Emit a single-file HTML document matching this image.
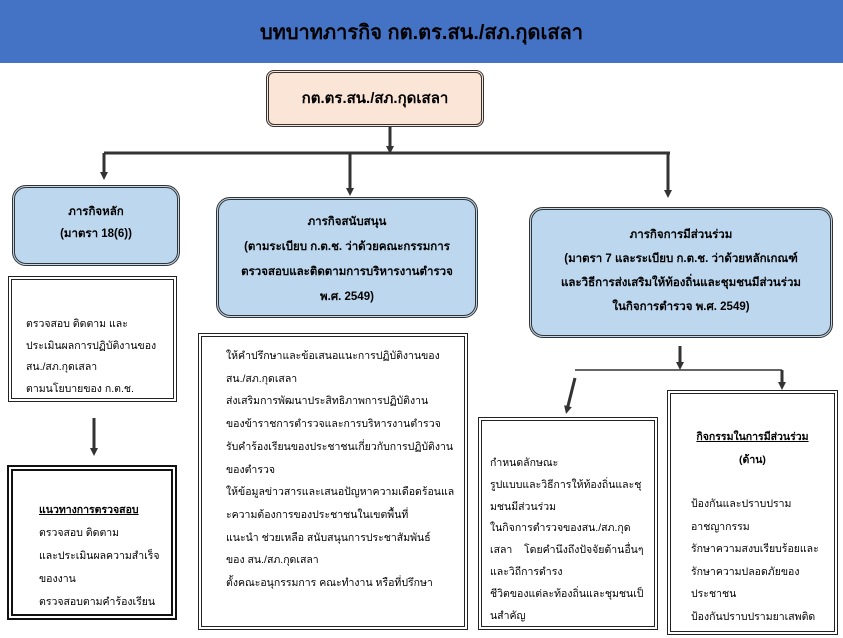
<!DOCTYPE html>
<html><head><meta charset="utf-8"><style>
body{margin:0;width:843px;height:638px;background:#fff;position:relative;overflow:hidden;font-family:"Liberation Sans","Noto Sans CJK SC","WenQuanYi Zen Hei",sans-serif;color:#000}
.a{position:absolute;box-sizing:border-box;white-space:nowrap}
.hdr{left:0;top:0;width:843px;height:63px;background:#4472C4;text-align:center;font-size:20px;font-weight:bold;line-height:66px}
.blue{background:#BDD7EE;border:3px double #333;border-radius:14px;text-align:center;font-size:11.5px;font-weight:bold;line-height:22px}
.wb{background:#fff;border:4px double #222;font-size:10.5px;line-height:21.5px;padding-left:14px}
svg{position:absolute;left:0;top:0}
</style></head><body>
<div class="a hdr">บทบาทภารกิจ กต.ตร.สน./สภ.กุดเสลา</div>
<svg width="843" height="638">
<defs><marker id="m" markerWidth="8" markerHeight="8" refX="4" refY="4" orient="auto" markerUnits="userSpaceOnUse"><path d="M0,0 L8,4 L0,8z" fill="#333"/></marker></defs>
<g stroke="#333" stroke-width="3" fill="none">
<line x1="390" y1="127" x2="390" y2="150" marker-end="url(#m)"/>
<line x1="104" y1="153" x2="670" y2="153"/>
<line x1="104" y1="153" x2="104" y2="176" marker-end="url(#m)"/>
<line x1="350" y1="153" x2="350" y2="192" marker-end="url(#m)"/>
<line x1="668" y1="153" x2="668" y2="194" marker-end="url(#m)"/>
<line x1="94" y1="418" x2="94" y2="452" marker-end="url(#m)"/>
<line x1="680" y1="346" x2="680" y2="366" marker-end="url(#m)"/>
<line x1="575" y1="370" x2="782" y2="370" stroke-width="1.5"/>
<line x1="575" y1="378" x2="567" y2="410" marker-end="url(#m)"/>
<line x1="782" y1="370" x2="782" y2="386" marker-end="url(#m)"/>
</g></svg>
<div class="a" style="left:266px;top:70px;width:218px;height:57px;background:#FBE5D6;border:3px double #333;border-radius:8px;text-align:center;font-size:15px;font-weight:bold;line-height:51px">กต.ตร.สน./สภ.กุดเสลา</div>
<div class="a blue" style="left:12px;top:185px;width:168px;height:81px;padding-top:13px">ภารกิจหลัก<br>(มาตรา 18(6))</div>
<div class="a blue" style="left:216px;top:197px;width:262px;height:121px;padding-top:10px;line-height:25px">ภารกิจสนับสนุน<br>(ตามระเบียบ ก.ต.ช. ว่าด้วยคณะกรรมการ<br>ตรวจสอบและติดตามการบริหารงานตำรวจ<br>พ.ศ. 2549)</div>
<div class="a blue" style="left:529px;top:207px;width:304px;height:131px;padding-top:13px;line-height:24px">ภารกิจการมีส่วนร่วม<br>(มาตรา 7 และระเบียบ ก.ต.ช. ว่าด้วยหลักเกณฑ์<br>และวิธีการส่งเสริมให้ท้องถิ่นและชุมชนมีส่วนร่วม<br>ในกิจการตำรวจ พ.ศ. 2549)</div>
<div class="a wb" style="left:8px;top:276px;width:169px;height:126px;padding-top:34px">ตรวจสอบ ติดตาม และ<br>ประเมินผลการปฏิบัติงานของ<br>สน./สภ.กุดเสลา<br>ตามนโยบายของ ก.ต.ช.</div>
<div class="a wb" style="left:7px;top:465px;width:170px;height:155px;padding-top:28px;padding-left:26px;border:6px double #111;line-height:23px"><u><b>แนวทางการตรวจสอบ</b></u><br>ตรวจสอบ ติดตาม<br>และประเมินผลความสำเร็จ<br>ของงาน<br>ตรวจสอบตามคำร้องเรียน</div>
<div class="a wb" style="left:198px;top:333px;width:270px;height:297px;padding-top:8px;padding-left:24px;line-height:22.7px">ให้คำปรึกษาและข้อเสนอแนะการปฏิบัติงานของ<br>สน./สภ.กุดเสลา<br>ส่งเสริมการพัฒนาประสิทธิภาพการปฏิบัติงาน<br>ของข้าราชการตำรวจและการบริหารงานตำรวจ<br>รับคำร้องเรียนของประชาชนเกี่ยวกับการปฏิบัติงาน<br>ของตำรวจ<br>ให้ข้อมูลข่าวสารและเสนอปัญหาความเดือดร้อนแล<br>ะความต้องการของประชาชนในเขตพื้นที่<br>แนะนำ ช่วยเหลือ สนับสนุนการประชาสัมพันธ์<br>ของ สน./สภ.กุดเสลา<br>ตั้งคณะอนุกรรมการ คณะทำงาน หรือที่ปรึกษา</div>
<div class="a wb" style="left:478px;top:417px;width:180px;height:213px;padding-top:32px;padding-left:8px;line-height:21.8px">กำหนดลักษณะ<br>รูปแบบและวิธีการให้ท้องถิ่นและชุ<br>มชนมีส่วนร่วม<br>ในกิจการตำรวจของสน./สภ.กุด<br>เสลา &nbsp;&nbsp;&nbsp;โดยคำนึงถึงปัจจัยด้านอื่นๆ<br>และวิถีการดำรง<br>ชีวิตของแต่ละท้องถิ่นและชุมชนเป็<br>นสำคัญ</div>
<div class="a wb" style="left:667px;top:390px;width:171px;height:245px;padding-top:32px;padding-left:20px;line-height:22.5px"><div style="text-align:center;margin-left:-20px"><u><b>กิจกรรมในการมีส่วนร่วม</b></u><br><b>(ด้าน)</b></div><div style="height:22px"></div>ป้องกันและปราบปราม<br>อาชญากรรม<br>รักษาความสงบเรียบร้อยและ<br>รักษาความปลอดภัยของ<br>ประชาชน<br>ป้องกันปราบปรามยาเสพติด</div>
</body></html>
